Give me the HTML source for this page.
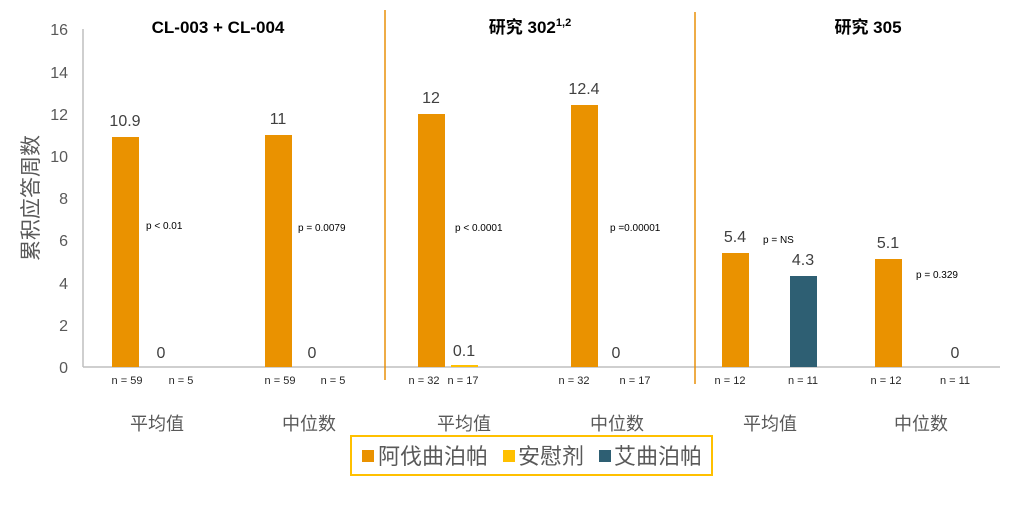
<!DOCTYPE html>
<html><head><meta charset="utf-8"><style>
body{margin:0;background:#fff;width:1024px;height:503px;overflow:hidden}
text{font-family:"Liberation Sans","Noto Sans CJK SC",sans-serif}
</style></head><body>
<svg width="1024" height="503" viewBox="0 0 1024 503">
<g fill="#595959" font-size="16" text-anchor="end">
<text x="68" y="373">0</text><text x="68" y="331">2</text><text x="68" y="289">4</text><text x="68" y="246">6</text><text x="68" y="204">8</text><text x="68" y="162">10</text><text x="68" y="120">12</text><text x="68" y="78">14</text><text x="68" y="35">16</text>
</g>
<text transform="translate(38,198) rotate(-90)" fill="#595959" font-size="21" text-anchor="middle">累积应答周数</text>
<line x1="83" y1="29" x2="83" y2="367" stroke="#bfbfbf" stroke-width="1.5"/>
<line x1="83" y1="367" x2="1000" y2="367" stroke="#bfbfbf" stroke-width="1.5"/>
<line x1="385" y1="10" x2="385" y2="380" stroke="#e8900a" stroke-width="1.5"/>
<line x1="695" y1="12" x2="695" y2="384" stroke="#e8900a" stroke-width="1.5"/>
<g font-size="17" font-weight="bold" fill="#000" text-anchor="middle">
<text x="218" y="33">CL-003 + CL-004</text>
<text x="530" y="33">研究 302<tspan font-size="11" dy="-7">1,2</tspan></text>
<text x="868" y="33">研究 305</text>
</g>
<g fill="#ea9200">
<rect x="112" y="137" width="27" height="230"/>
<rect x="265" y="135" width="27" height="232"/>
<rect x="418" y="114" width="27" height="253"/>
<rect x="571" y="105" width="27" height="262"/>
<rect x="722" y="253" width="27" height="114"/>
<rect x="875" y="259" width="27" height="108"/>
</g>
<rect x="451" y="365" width="27" height="2" fill="#ffc000"/>
<rect x="790" y="276" width="27" height="91" fill="#2e5f73"/>
<g fill="#404040" font-size="16" text-anchor="middle">
<text x="125" y="126">10.9</text><text x="161" y="358">0</text>
<text x="278" y="124">11</text><text x="312" y="358">0</text>
<text x="431" y="103">12</text><text x="464" y="356">0.1</text>
<text x="584" y="94">12.4</text><text x="616" y="358">0</text>
<text x="735" y="242">5.4</text><text x="803" y="265">4.3</text>
<text x="888" y="248">5.1</text><text x="955" y="358">0</text>
</g>
<g fill="#000" font-size="10">
<text x="146" y="229">p &lt; 0.01</text>
<text x="298" y="231">p = 0.0079</text>
<text x="455" y="231">p &lt; 0.0001</text>
<text x="610" y="231">p =0.00001</text>
<text x="763" y="243">p = NS</text>
<text x="916" y="278">p = 0.329</text>
</g>
<g fill="#262626" font-size="11" text-anchor="middle">
<text x="127" y="384">n = 59</text><text x="181" y="384">n = 5</text>
<text x="280" y="384">n = 59</text><text x="333" y="384">n = 5</text>
<text x="424" y="384">n = 32</text><text x="463" y="384">n = 17</text>
<text x="574" y="384">n = 32</text><text x="635" y="384">n = 17</text>
<text x="730" y="384">n = 12</text><text x="803" y="384">n = 11</text>
<text x="886" y="384">n = 12</text><text x="955" y="384">n = 11</text>
</g>
<g fill="#595959" font-size="18" text-anchor="middle">
<text x="157" y="430">平均值</text><text x="309" y="430">中位数</text>
<text x="464" y="430">平均值</text><text x="617" y="430">中位数</text>
<text x="770" y="430">平均值</text><text x="921" y="430">中位数</text>
</g>
<rect x="351" y="436" width="361" height="39" fill="#fff" stroke="#ffc000" stroke-width="2"/>
<rect x="362" y="450" width="12" height="12" fill="#ea9200"/>
<rect x="503" y="450" width="12" height="12" fill="#ffc000"/>
<rect x="599" y="450" width="12" height="12" fill="#2e5f73"/>
<g fill="#595959" font-size="22">
<text x="378" y="464">阿伐曲泊帕</text>
<text x="518" y="464">安慰剂</text>
<text x="614" y="464">艾曲泊帕</text>
</g>
</svg>
</body></html>
